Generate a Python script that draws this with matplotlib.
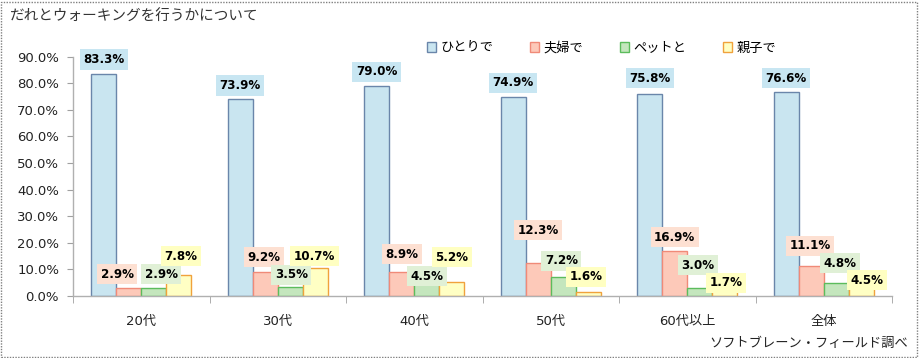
import matplotlib
matplotlib.use("Agg")
import matplotlib.pyplot as plt
from matplotlib.patches import Rectangle, Patch
import numpy as np

plt.rcParams['font.family'] = ['DejaVu Sans', 'Noto Sans CJK JP']

categories = ['20代', '30代', '40代', '50代', '60代以上', '全体']
series_names = ['ひとりで', '夫婦で', 'ペットと', '親子で']
hitori = [83.3, 73.9, 79.0, 74.9, 75.8, 76.6]
fuufu = [2.9, 9.2, 8.9, 12.3, 16.9, 11.1]
petto = [2.9, 3.5, 4.5, 7.2, 3.0, 4.8]
oyako = [7.8, 10.7, 5.2, 1.6, 1.7, 4.5]
series = [hitori, fuufu, petto, oyako]
yticks = [0, 10, 20, 30, 40, 50, 60, 70, 80, 90]

face_colors = ['#c9e5f0', '#fdc9b9', '#c4e6bd', '#ffffc4']
edge_colors = ['#6a86aa', '#f08a78', '#5cbc5c', '#f0a23c']
label_bg = ['#c8e6f2', '#fde0d2', '#e0f0d6', '#ffffc2']

# label offsets (pixels) from bar-top centre: (dx, dy) per series per category
label_offsets = [
    [(0, 15), (0, 14), (0, 14), (0, 14), (0, 16), (0, 14)],
    [(-11.5, 14), (-1, 14.5), (0, 18), (0, 33), (0, 14), (-1, 20.5)],
    [(7.5, 14), (1, 12), (0, 8), (-2, 16), (-1.5, 23), (4, 20)],
    [(2, 19), (-1, 11.5), (0, 25), (-2, 15), (1.5, 8.5), (6, 4)],
]

W, H = 919, 358
fig = plt.figure(figsize=(W / 100, H / 100), dpi=100)
ax = fig.add_axes([73 / W, (H - 296) / H, (892 - 73) / W, (296 - 56.6) / H])

x = np.arange(len(categories))
bw = 25 / 136.5
bars = []
for j, vals in enumerate(series):
    b = ax.bar(x + (j - 1.5) * bw, vals, width=bw, color=face_colors[j],
               edgecolor=edge_colors[j], linewidth=1.0, zorder=2)
    bars.append(b)

for j, vals in enumerate(series):
    for i, v in enumerate(vals):
        dx, dy = label_offsets[j][i]
        ax.annotate(f'{v:.1f}%', xy=(x[i] + (j - 1.5) * bw, v),
                    xytext=(dx * 0.72, dy * 0.72), textcoords='offset points',
                    ha='center', va='center', fontsize=8.6, fontweight='bold',
                    color='black', zorder=5,
                    bbox=dict(boxstyle='square,pad=0.3', fc=label_bg[j], ec='none'))

ax.set_xlim(-0.5, len(categories) - 0.5)
ax.set_ylim(0, 90)
ax.set_yticks(yticks)
ax.set_yticklabels([f'{t:.1f}%' for t in yticks], fontsize=9.5, color='#222222')
ax.set_xticks(x)
ax.set_xticklabels(categories, fontsize=9.5, color='#222222')
ax.set_xticks(np.arange(-0.5, len(categories)), minor=True)
ax.tick_params(axis='x', which='major', length=0, pad=14)
ax.tick_params(axis='x', which='minor', length=5, color='#a0a0a0', direction='out')
ax.tick_params(axis='y', length=4, color='#a0a0a0', pad=6)
for s in ['top', 'right']:
    ax.spines[s].set_visible(False)
for s in ['left', 'bottom']:
    ax.spines[s].set_color('#b0b0b0')
    ax.spines[s].set_linewidth(1.0)

handles = [Patch(facecolor=face_colors[j], edgecolor=edge_colors[j], linewidth=1.0)
           for j in range(4)]
fig.legend(handles, series_names, loc='center left', bbox_to_anchor=(420 / W, (H - 48) / H),
           ncol=4, frameon=False, handlelength=0.7, handleheight=0.7,
           handletextpad=0.35, columnspacing=2.75, borderpad=0,
           prop={'family': ['Noto Sans CJK JP'], 'size': 9.5})

fig.text(10 / W, (H - 17) / H, 'だれとウォーキングを行うかについて', fontsize=10.5,
         family=['Noto Sans CJK JP'], color='#333333', ha='left', va='center')
fig.text(908 / W, (H - 343) / H, 'ソフトブレーン・フィールド調べ', fontsize=9.5,
         family=['Noto Sans CJK JP'], color='#222222', ha='right', va='center')

fig.patches.append(Rectangle((1 / W, 1 / H), (W - 3) / W, (H - 3) / H,
                             transform=fig.transFigure, fill=False,
                             edgecolor='#808080', linestyle=(0, (1, 1)), linewidth=1.0))

fig.savefig('out.png', dpi=100)
